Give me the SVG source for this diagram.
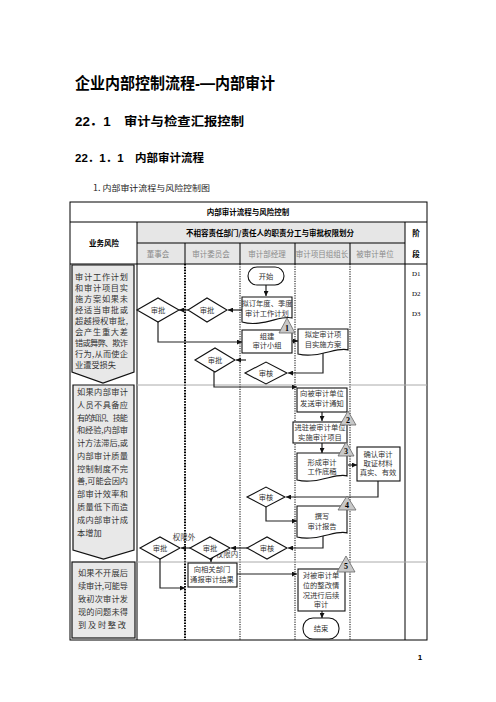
<svg xmlns="http://www.w3.org/2000/svg" width="496" height="702" viewBox="0 0 496 702">
<style>
.cjk{font-family:"Noto Sans CJK SC","Liberation Serif",sans-serif;}
.h{font-family:"Liberation Sans","Noto Sans CJK SC",sans-serif;font-weight:bold;fill:#000;}
.hd{font-family:"Noto Sans CJK SC",sans-serif;font-weight:bold;font-size:7.5px;fill:#000;text-anchor:middle;}
.ln{font-family:"Noto Sans CJK SC",sans-serif;font-size:7.5px;fill:#8a8a8a;text-anchor:middle;}
.rk{font-family:"Noto Sans CJK SC",sans-serif;font-size:8.2px;fill:#333;}
.nt{font-family:"Noto Sans CJK SC",sans-serif;font-size:7.3px;fill:#333;text-anchor:middle;}
.lb{font-family:"Noto Sans CJK SC",sans-serif;font-size:7.5px;fill:#444;text-anchor:middle;}
.ph{font-family:"Liberation Serif",serif;font-size:7px;fill:#000;}
.nd{fill:#fff;stroke:#111;stroke-width:1.1;}
.risk{fill:#e8e8e8;stroke:#111;stroke-width:1.2;}
.tri{fill:#c8c8c8;stroke:#666;stroke-width:0.8;}
.tn{font-family:"Liberation Serif",serif;font-weight:bold;font-size:8px;fill:#000;text-anchor:middle;}
.cn{fill:none;stroke:#222;stroke-width:1.2;marker-end:url(#ah);}
.grid{stroke:#000;stroke-width:1;fill:none;}
.dot{stroke:#000;stroke-width:1;stroke-dasharray:1.2,1.2;fill:none;}
.dotb{stroke:#000;stroke-width:2;stroke-dasharray:1.6,1.2;fill:none;}
.pl{stroke:#aaa;stroke-width:1;}
</style>
<defs>
<marker id="ah" viewBox="0 0 6 6" refX="6" refY="3" markerWidth="5" markerHeight="5" orient="auto" markerUnits="userSpaceOnUse">
<path d="M0,0 L6,3 L0,6 z" fill="#111"/>
</marker>
</defs>
<rect width="496" height="702" fill="#fff"/>

<g id="headings">
<text class="h" x="75" y="89" font-size="16" textLength="200" lengthAdjust="spacingAndGlyphs">企业内部控制流程-—内部审计</text>
<text class="h" x="75" y="126" font-size="12.5" textLength="169" lengthAdjust="spacingAndGlyphs">22．1　审计与检查汇报控制</text>
<text class="h" x="75" y="162" font-size="11.5" textLength="129" lengthAdjust="spacingAndGlyphs">22．1．1　内部审计流程</text>
<text class="cjk" x="93" y="191" font-size="8.3" fill="#222" textLength="117" lengthAdjust="spacingAndGlyphs">1. 内部审计流程与风险控制图</text>
<text x="420" y="660" font-family="Liberation Sans,sans-serif" font-size="8" font-weight="bold" text-anchor="middle">1</text>
</g>

<g id="table">
<rect x="137" y="222" width="268" height="42" fill="#e6e6e6"/>
<rect x="70" y="202" width="357" height="438" class="grid" stroke-width="1.6"/>
<line x1="70" y1="222" x2="427" y2="222" class="grid"/>
<line x1="137" y1="243" x2="405" y2="243" class="grid"/>
<line x1="70" y1="264" x2="427" y2="264" class="grid" stroke-width="1.6"/>
<line x1="137" y1="222" x2="137" y2="640" class="grid"/>
<line x1="405" y1="222" x2="405" y2="640" class="grid"/>
<line x1="185" y1="243" x2="185" y2="264" class="grid"/>
<line x1="240" y1="243" x2="240" y2="264" class="grid"/>
<line x1="295" y1="243" x2="295" y2="264" class="grid"/>
<line x1="350" y1="243" x2="350" y2="264" class="grid"/>
<line x1="185" y1="264" x2="185" y2="640" class="dotb"/>
<line x1="240" y1="264" x2="240" y2="640" class="dot" stroke-width="1.4"/>
<line x1="295" y1="264" x2="295" y2="640" class="dot"/>
<line x1="350" y1="264" x2="350" y2="640" class="dot"/>
<line x1="137" y1="385" x2="427" y2="385" class="pl"/>
<line x1="137" y1="562" x2="427" y2="562" class="pl"/>
<text class="hd" x="248" y="215">内部审计流程与风险控制</text>
<text class="hd" x="270" y="236">不相容责任部门/责任人的职责分工与审批权限划分</text>
<text class="hd" x="104" y="246" font-size="8">业务风险</text>
<text class="hd" x="416" y="236" font-size="8">阶</text>
<text class="hd" x="416" y="257" font-size="8">段</text>
<text class="ln" x="158" y="257">董事会</text>
<text class="ln" x="211" y="257">审计委员会</text>
<text class="ln" x="267" y="257">审计部经理</text>
<text class="ln" x="322" y="257">审计项目组组长</text>
<text class="ln" x="375" y="257">被审计单位</text>
<text class="ph" x="412" y="276">D1</text>
<text class="ph" x="412" y="296">D2</text>
<text class="ph" x="412" y="316">D3</text>
</g>

<g id="risk1">
<path class="risk" d="M72,265 H134 V372 L103,383 L72,372 Z"/>
<text class="rk" x="75" y="280" textLength="53" lengthAdjust="spacing">审计工作计划</text>
<text class="rk" x="75" y="291" textLength="53" lengthAdjust="spacing">和审计项目实</text>
<text class="rk" x="75" y="302" textLength="53" lengthAdjust="spacing">施方案如果未</text>
<text class="rk" x="75" y="313" textLength="53" lengthAdjust="spacing">经适当审批或</text>
<text class="rk" x="75" y="324" textLength="53" lengthAdjust="spacing">超越授权审批,</text>
<text class="rk" x="75" y="335" textLength="53" lengthAdjust="spacing">会产生重大差</text>
<text class="rk" x="75" y="346" textLength="53" lengthAdjust="spacing">错或舞弊、欺诈</text>
<text class="rk" x="75" y="357" textLength="53" lengthAdjust="spacing">行为,从而使企</text>
<text class="rk" x="75" y="368">业遭受损失</text>
</g>

<g id="risk2">
<path class="risk" d="M73,385 H134 V550 L103.5,559 L73,550 Z"/>
<text class="rk" x="77" y="395" textLength="51" lengthAdjust="spacing">如果内部审计</text>
<text class="rk" x="77" y="408" textLength="51" lengthAdjust="spacing">人员不具备应</text>
<text class="rk" x="77" y="421" textLength="51" lengthAdjust="spacing">有的知识、技能</text>
<text class="rk" x="77" y="433" textLength="51" lengthAdjust="spacing">和经验,内部审</text>
<text class="rk" x="77" y="446" textLength="51" lengthAdjust="spacing">计方法滞后,或</text>
<text class="rk" x="77" y="459" textLength="51" lengthAdjust="spacing">内部审计质量</text>
<text class="rk" x="77" y="472" textLength="51" lengthAdjust="spacing">控制制度不完</text>
<text class="rk" x="77" y="484" textLength="51" lengthAdjust="spacing">善,可能会因内</text>
<text class="rk" x="77" y="497" textLength="51" lengthAdjust="spacing">部审计效率和</text>
<text class="rk" x="77" y="510" textLength="51" lengthAdjust="spacing">质量低下而造</text>
<text class="rk" x="77" y="523" textLength="51" lengthAdjust="spacing">成内部审计成</text>
<text class="rk" x="77" y="536">本增加</text>
</g>

<g id="risk3">
<rect class="risk" x="72" y="562" width="63" height="76"/>
<text class="rk" x="78" y="576" textLength="50" lengthAdjust="spacing">如果不开展后</text>
<text class="rk" x="78" y="589" textLength="50" lengthAdjust="spacing">续审计,可能导</text>
<text class="rk" x="78" y="602" textLength="50" lengthAdjust="spacing">致初次审计发</text>
<text class="rk" x="78" y="615" textLength="50" lengthAdjust="spacing">现的问题未得</text>
<text class="rk" x="78" y="628" textLength="48" lengthAdjust="spacing">到及时整改</text>
</g>

<g id="connectors">
<path class="cn" d="M266,285 V296"/>
<path class="cn" d="M242,310 H228"/>
<path class="cn" d="M188,310 H179"/>
<path class="cn" d="M158,322 V342 H242"/>
<path class="cn" d="M292,341 H298"/>
<path class="cn" d="M323,352 V373 H288"/>
<path class="cn" d="M246,360 H236"/>
<path class="cn" d="M214,372 V387 H297"/>
<path class="cn" d="M322,412 V421"/>
<path class="cn" d="M322,443 V453"/>
<path class="cn" d="M348,465 H357"/>
<path class="cn" d="M378,481 V497 H286"/>
<path class="cn" d="M266,507 V521 H297"/>
<path class="cn" d="M323,535 V548 H288"/>
<path class="cn" d="M247,548 H231"/>
<path class="cn" d="M190,548 H181"/>
<path class="cn" d="M211,545 V562"/>
<path class="cn" d="M160,559 V588 H185"/>
<path class="cn" d="M237,574 H297"/>
<path class="cn" d="M322,611 V618"/>
<text class="lb" x="184" y="540">权限外</text>
<text class="lb" x="227" y="557">权限内</text>
</g>

<g id="start">
<rect class="nd" x="248" y="267" width="36" height="18" rx="9"/>
<text class="nt" x="266" y="279" font-size="8">开始</text>
</g>
<g id="plan">
<path class="nd" d="M242,297 H292 V318 C282,314 262,328 242,322 Z"/>
<text class="nt" x="267" y="306" font-size="7">拟订年度、季度</text>
<text class="nt" x="267" y="316" font-size="7">审计工作计划</text>
</g>
<g id="approve1">
<path class="nd" d="M137,310 L158,298 L179,310 L158,322 Z"/>
<text class="nt" x="158" y="313">审批</text>
</g>
<g id="approve2">
<path class="nd" d="M188,310 L207,298 L227,310 L207,322 Z"/>
<text class="nt" x="207" y="313">审批</text>
</g>
<g id="team">
<rect class="nd" x="242" y="330" width="50" height="23"/>
<text class="nt" x="267" y="339">组建</text>
<text class="nt" x="267" y="348">审计小组</text>
</g>
<g id="scheme">
<path class="nd" d="M298,329 H348 V350 C338,346 318,359 298,354 Z"/>
<text class="nt" x="323" y="337">拟定审计项</text>
<text class="nt" x="323" y="347">目实施方案</text>
</g>
<g id="review1">
<path class="nd" d="M245,373 L266,362 L287,373 L266,384 Z"/>
<text class="nt" x="266" y="376">审核</text>
</g>
<g id="approve3">
<path class="nd" d="M195,360 L215,348 L235,360 L215,372 Z"/>
<text class="nt" x="215" y="363">审批</text>
</g>
<g id="notice">
<rect class="nd" x="297" y="388" width="50" height="24"/>
<text class="nt" x="322" y="396">向被审计单位</text>
<text class="nt" x="322" y="406">发送审计通知</text>
</g>
<g id="enter">
<rect class="nd" x="293" y="422" width="54" height="21"/>
<text class="nt" x="320" y="430">进驻被审计单位</text>
<text class="nt" x="320" y="440">实施审计项目</text>
</g>
<g id="draft">
<path class="nd" d="M297,453 H347 V476 C337,472 317,485 297,480 Z"/>
<text class="nt" x="322" y="465">形成审计</text>
<text class="nt" x="322" y="474">工作底稿</text>
</g>
<g id="confirm">
<rect class="nd" x="357" y="447" width="43" height="34"/>
<text class="nt" x="378" y="457">确认审计</text>
<text class="nt" x="378" y="466">取证材料</text>
<text class="nt" x="378" y="475">真实、有效</text>
</g>
<g id="review2">
<path class="nd" d="M247,497 L266,487 L285,497 L266,507 Z"/>
<text class="nt" x="266" y="500">审核</text>
</g>
<g id="report">
<path class="nd" d="M297,506 H347 V533 C337,529 317,542 297,537 Z"/>
<text class="nt" x="322" y="519">撰写</text>
<text class="nt" x="322" y="529">审计报告</text>
</g>
<g id="review3">
<path class="nd" d="M247,548 L267,537 L287,548 L267,559 Z"/>
<text class="nt" x="267" y="551">审核</text>
</g>
<g id="approve4">
<path class="nd" d="M190,548 L210,537 L230,548 L210,559 Z"/>
<text class="nt" x="210" y="551">审批</text>
</g>
<g id="approve5">
<path class="nd" d="M140,548 L160,537 L180,548 L160,559 Z"/>
<text class="nt" x="160" y="551">审批</text>
</g>
<g id="inform">
<rect class="nd" x="188" y="563" width="49" height="24"/>
<text class="nt" x="212" y="572">向相关部门</text>
<text class="nt" x="212" y="582">通报审计结果</text>
</g>
<g id="followup">
<rect class="nd" x="298" y="569" width="47" height="42"/>
<text class="nt" x="321" y="578">对被审计单</text>
<text class="nt" x="321" y="588">位的整改情</text>
<text class="nt" x="321" y="598">况进行后续</text>
<text class="nt" x="321" y="607">审计</text>
</g>
<g id="end">
<rect class="nd" x="303" y="618" width="36" height="21" rx="10"/>
<text class="nt" x="321" y="631" font-size="8">结束</text>
</g>

<g id="markers">
<path class="tri" d="M287,318 L295,333 L279,333 Z"/><text class="tn" x="287" y="331">1</text>
<path class="tri" d="M348,411 L356,425 L340,425 Z"/><text class="tn" x="348" y="423">2</text>
<path class="tri" d="M346,442 L354,456 L338,456 Z"/><text class="tn" x="346" y="454">3</text>
<path class="tri" d="M347,496 L356,510 L338,510 Z"/><text class="tn" x="347" y="508">4</text>
<path class="tri" d="M346,556 L355,572 L337,572 Z"/><text class="tn" x="346" y="569">5</text>
</g>
</svg>
